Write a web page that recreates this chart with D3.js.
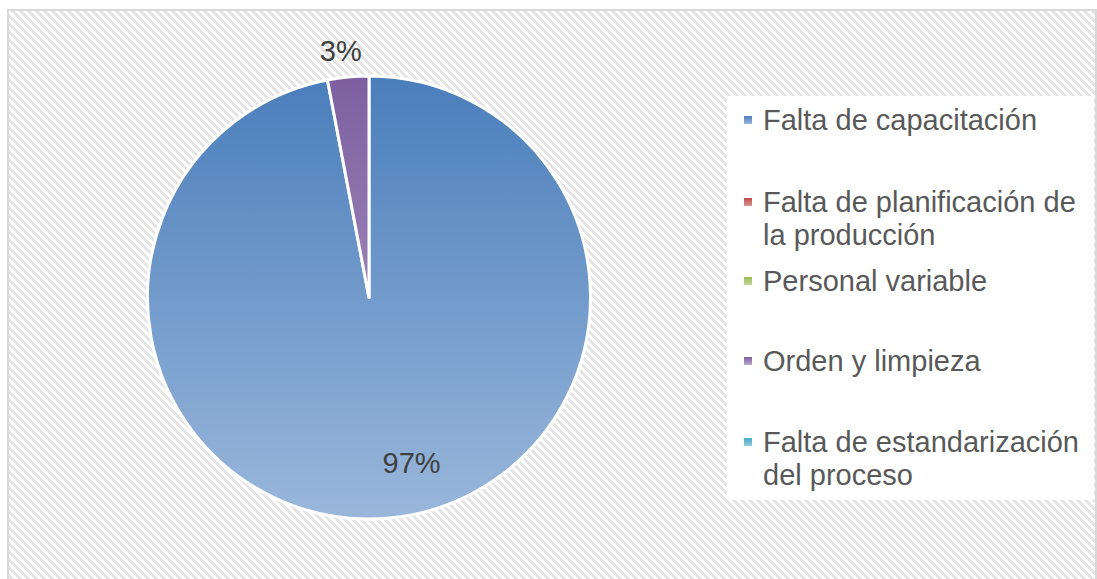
<!DOCTYPE html>
<html>
<head>
<meta charset="utf-8">
<script src="https://cdn.jsdelivr.net/npm/d3@7"></script>
<style>
  html, body { margin: 0; padding: 0; background: #ffffff; }
  svg { display: block; }
</style>
</head>
<body>
<svg id="chart" width="1097" height="579"></svg>
<script>
// Causes and their share of the total (percent)
const categories = [
  "Falta de capacitación",
  "Falta de planificación de la producción",
  "Personal variable",
  "Orden y limpieza",
  "Falta de estandarización del proceso"
];
const values = [97, 0, 0, 3, 0];
const valueLabels = ["97%", "", "", "3%", ""];
// Legend text broken into lines as displayed
const legendLines = [
  ["Falta de capacitación"],
  ["Falta de planificación de", "la producción"],
  ["Personal variable"],
  ["Orden y limpieza"],
  ["Falta de estandarización", "del proceso"]
];
// Gradient stops per category: [top, bottom]
const colors = [
  ["#4a7ebb", "#9ab7db"],
  ["#be4b48", "#d99694"],
  ["#98b954", "#c3d69b"],
  ["#7d5fa0", "#b7a6cc"],
  ["#46aac5", "#93cddd"]
];

const W = 1097, H = 579;
const FONT = "Liberation Sans, Arial, sans-serif";
const svg = d3.select("#chart");
const defs = svg.append("defs");

// Diagonal hatch used for the chart area background
const hatch = defs.append("pattern")
  .attr("id", "hatch")
  .attr("patternUnits", "userSpaceOnUse")
  .attr("width", 8).attr("height", 8);
hatch.append("rect").attr("width", 8).attr("height", 8).attr("fill", "#ffffff");
for (let y = 0; y < 8; y++) {
  for (let k = 0; k < 4; k++) {
    hatch.append("rect")
      .attr("x", (y + k) % 8).attr("y", y)
      .attr("width", 1).attr("height", 1)
      .attr("fill", "#e4e4e4");
  }
}

// Frame
const frame = { x: 8, y: 10, w: 1088, h: 600 };
svg.append("rect")
  .attr("x", frame.x).attr("y", frame.y)
  .attr("width", frame.w).attr("height", frame.h)
  .attr("fill", "url(#hatch)")
  .attr("stroke", "#d9d9d9")
  .attr("stroke-width", 2);

// Pie geometry
const cx = 369, cy = 297.5, R = 221.5;

// Vertical gradients spanning the whole pie (coordinates local to the pie group)
categories.forEach((c, i) => {
  const g = defs.append("linearGradient")
    .attr("id", "grad" + i)
    .attr("gradientUnits", "userSpaceOnUse")
    .attr("x1", 0).attr("x2", 0)
    .attr("y1", -R).attr("y2", R);
  g.append("stop").attr("offset", "0%").attr("stop-color", colors[i][0]);
  g.append("stop").attr("offset", "100%").attr("stop-color", colors[i][1]);
});

const pie = d3.pie().sort(null).value(d => d.value);
const data = categories.map((c, i) => ({ name: c, value: values[i], label: valueLabels[i], idx: i }));
const arcs = pie(data);

const arc = d3.arc().innerRadius(0).outerRadius(R);
const innerLabelArc = d3.arc().innerRadius(R * 0.75).outerRadius(R * 0.75);
const outerLabelArc = d3.arc().innerRadius(R + 26).outerRadius(R + 26);

const gPie = svg.append("g").attr("transform", `translate(${cx},${cy})`);

gPie.selectAll("path.slice")
  .data(arcs.filter(d => d.data.value > 0))
  .join("path")
  .attr("class", "slice")
  .attr("d", arc)
  .attr("fill", d => `url(#grad${d.data.idx})`)
  .attr("stroke", "#ffffff")
  .attr("stroke-width", 3)
  .attr("stroke-linejoin", "round");

// Value labels: large slices inside, small slices outside the rim
gPie.selectAll("text.value")
  .data(arcs.filter(d => d.data.value > 0))
  .join("text")
  .attr("class", "value")
  .attr("transform", d => {
    const big = d.data.value >= 50;
    const p = (big ? innerLabelArc : outerLabelArc).centroid(d);
    return `translate(${p[0] + (big ? 27 : -5)},${p[1]})`;
  })
  .attr("text-anchor", "middle")
  .attr("dominant-baseline", "central")
  .attr("font-family", FONT)
  .attr("font-size", 29)
  .attr("fill", "#404040")
  .text(d => d.data.label);

// Legend
const legend = { x: 727, y: 96, w: 367, h: 404 };
svg.append("rect")
  .attr("x", legend.x).attr("y", legend.y)
  .attr("width", legend.w).attr("height", legend.h)
  .attr("fill", "#ffffff");

const lineH = 33;
const entryTops = [120, 202, 281, 361, 442];
const gLeg = svg.append("g");
legendLines.forEach((lines, i) => {
  const y0 = entryTops[i];
  const lg = defs.append("linearGradient")
    .attr("id", "lgrad" + i)
    .attr("x1", 0).attr("x2", 0).attr("y1", 0).attr("y2", 1);
  lg.append("stop").attr("offset", "0%").attr("stop-color", colors[i][0]);
  lg.append("stop").attr("offset", "100%").attr("stop-color", colors[i][1]);
  gLeg.append("rect")
    .attr("x", 744).attr("y", y0 - 4)
    .attr("width", 8).attr("height", 8)
    .attr("fill", `url(#lgrad${i})`);
  const t = gLeg.append("text")
    .attr("font-family", FONT)
    .attr("font-size", 29)
    .attr("fill", "#595959")
    .attr("dominant-baseline", "central");
  lines.forEach((ln, j) => {
    t.append("tspan")
      .attr("x", 763)
      .attr("y", y0 + j * lineH)
      .text(ln);
  });
});
</script>
</body>
</html>
